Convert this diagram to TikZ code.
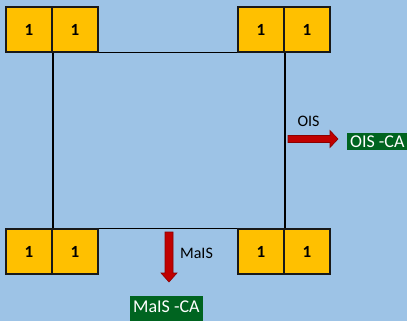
\documentclass[tikz,border=0pt]{standalone}
\usepackage{fontspec}
\setmainfont{Carlito}
\definecolor{bgblue}{HTML}{9DC3E6}
\definecolor{cellyellow}{HTML}{FFC000}
\definecolor{cagreen}{RGB}{0,100,32}
\definecolor{arrowred}{HTML}{C00000}
\definecolor{arrowedge}{HTML}{8A0000}
\tikzset{
  cell/.style={draw=black!90, line width=1.6pt, fill=cellyellow,
    minimum width=46pt, minimum height=45pt, inner sep=0pt,
    font=\fontsize{17}{17}\selectfont\bfseries},
  frame/.style={draw=black, line width=1.4pt},
  blockarrow/.style={fill=arrowred, draw=arrowedge, line width=0.6pt, line join=miter},
  calabel/.style={fill=cagreen, text=white, inner xsep=3pt, inner ysep=0pt,
    font=\fontsize{18}{18}\selectfont},
  arrowlabel/.style={font=\fontsize{16}{16}\selectfont, inner sep=0pt}
}
\begin{document}
\begin{tikzpicture}[x=1pt,y=-1pt]
  \fill[bgblue] (0,0) rectangle (407,321);
  \useasboundingbox (0,0) rectangle (407,321);

  % corner pairs of cells
  \node[cell] (tl1) at (29,29.5) {1};
  \node[cell] (tl2) at (75,29.5) {1};
  \node[cell] (tr1) at (261,29.5) {1};
  \node[cell] (tr2) at (307,29.5) {1};
  \node[cell] (bl1) at (29,251.5) {1};
  \node[cell] (bl2) at (75,251.5) {1};
  \node[cell] (br1) at (261,251.5) {1};
  \node[cell] (br2) at (307,251.5) {1};

  % frame joining the corners
  \draw[frame] (tl2.south east) -- (tr1.south west);
  \draw[frame] (tl1.south east) -- (bl1.north east);
  \draw[frame] (tr1.south east) -- (br1.north east);
  \draw[frame] (bl2.north east) -- (br1.north west);

  % OIS branch: block arrow pointing right
  \coordinate (oistail) at (288,139);
  \draw[blockarrow] (oistail) ++(0,-3.5) -- ++(42,0) -- ++(0,-5) -- ++(8,8.5)
    -- ++(-8,8.5) -- ++(0,-5) -- ++(-42,0) -- cycle;
  \node[arrowlabel] (ois) at (308.5,121.5) {OIS};
  \node[calabel, anchor=west, minimum height=17pt] (oisca) at (347,141.5) {OIS -CA};

  % MaIS branch: block arrow pointing down
  \coordinate (maistail) at (169,232);
  \draw[blockarrow] (maistail) ++(-4,0) -- ++(0,41) -- ++(-4,0) -- ++(8,9)
    -- ++(8,-9) -- ++(-4,0) -- ++(0,-41) -- cycle;
  \node[arrowlabel] (mais) at (196.5,253.5) {MaIS};
  \node[calabel, anchor=north west, minimum height=30pt, text depth=10pt] (maisca) at (130,296) {MaIS -CA};
\end{tikzpicture}
\end{document}
